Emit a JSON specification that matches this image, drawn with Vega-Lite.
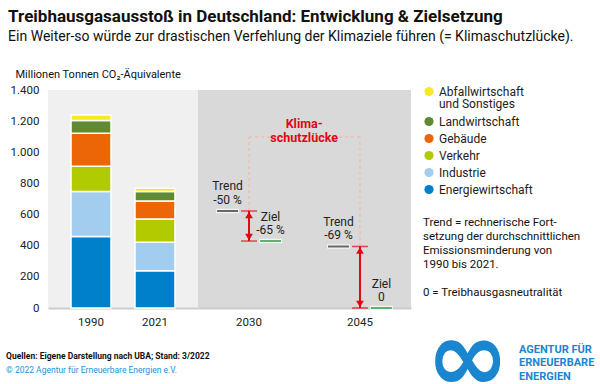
{
  "$schema": "https://vega.github.io/schema/vega-lite/v6.json",
  "background": "white",
  "padding": {"left": 6, "top": 8, "right": 4, "bottom": 2},
  "config": {
    "font": "Roboto",
    "view": {"stroke": null},
    "concat": {"spacing": 0},
    "style": {"guide-label": {"lineHeight": 12.5}},
    "axis": {"labelFont": "Roboto", "labelFontSize": 11.5, "labelColor": "#222", "ticks": false, "grid": false, "domain": false, "titleFont": "Roboto", "titleFontWeight": "normal", "titleColor": "#111"},
    "legend": {"orient": "none", "legendX": 375, "legendY": -4.5, "symbolType": "circle", "symbolSize": 85, "symbolStrokeWidth": 0, "labelFont": "Roboto", "labelFontSize": 12, "labelColor": "#222", "labelLimit": 250, "rowPadding": 5, "padding": 0, "titleFont": "Roboto", "titleOrient": "bottom", "titleFontWeight": "normal", "titleFontSize": 11.5, "titleColor": "#111", "titleLimit": 300, "titlePadding": 21, "titleLineHeight": 14}
  },
  "title": {
    "text": "Treibhausgasausstoß in Deutschland: Entwicklung & Zielsetzung",
    "subtitle": "Ein Weiter-so würde zur drastischen Verfehlung der Klimaziele führen (= Klimaschutzlücke).",
    "anchor": "start", "font": "Roboto", "fontSize": 17, "fontWeight": "bold", "color": "#111",
    "subtitleFont": "Roboto", "subtitleFontSize": 14, "subtitleColor": "#111", "subtitlePadding": 4, "offset": 23, "dx": 2
  },
  "datasets": {
    "emissions": [
      {"year": "1990", "sector": "Energiewirtschaft", "value": 459},
      {"year": "1990", "sector": "Industrie", "value": 289},
      {"year": "1990", "sector": "Verkehr", "value": 162},
      {"year": "1990", "sector": "Gebäude", "value": 212},
      {"year": "1990", "sector": "Landwirtschaft", "value": 82},
      {"year": "1990", "sector": "Abfallwirtschaft und Sonstiges", "value": 36},
      {"year": "2021", "sector": "Energiewirtschaft", "value": 240},
      {"year": "2021", "sector": "Industrie", "value": 182},
      {"year": "2021", "sector": "Verkehr", "value": 150},
      {"year": "2021", "sector": "Gebäude", "value": 115},
      {"year": "2021", "sector": "Landwirtschaft", "value": 61},
      {"year": "2021", "sector": "Abfallwirtschaft und Sonstiges", "value": 21}
    ],
    "targets": [
      {"year": "2030", "kind": "Trend", "value": 623, "label": "Trend\n-50 %"},
      {"year": "2030", "kind": "Ziel", "value": 430, "label": "Ziel\n-65 %"},
      {"year": "2045", "kind": "Trend", "value": 395, "label": "Trend\n-69 %"},
      {"year": "2045", "kind": "Ziel", "value": 0, "label": "Ziel\n0"}
    ]
  },
  "vconcat": [
    {
      "bounds": "flush",
      "title": {"text": "∞", "orient": "bottom", "anchor": "end", "font": "DejaVu Sans", "fontSize": 100, "fontWeight": "bold", "color": "#1a86d0", "offset": -70, "dx": -85},
      "hconcat": [
        {
          "width": 150, "height": 218,
          "view": {"fill": "#f0f0f0", "stroke": null},
          "title": {"text": "Quellen: Eigene Darstellung nach UBA; Stand: 3/2022", "subtitle": "© 2022 Agentur für Erneuerbare Energien e.V.", "orient": "bottom", "anchor": "start", "font": "Roboto", "fontSize": 8.5, "fontWeight": "bold", "color": "#111", "subtitleFont": "Roboto", "subtitleFontSize": 8.5, "subtitleColor": "#2a8fd6", "subtitlePadding": 6, "offset": 24, "dx": -4},
          "data": {"name": "emissions"},
          "transform": [{"calculate": "indexof(['Energiewirtschaft', 'Industrie', 'Verkehr', 'Gebäude', 'Landwirtschaft', 'Abfallwirtschaft und Sonstiges'], datum.sector)", "as": "stackOrder"}],
          "mark": {"type": "bar", "stroke": "white", "strokeWidth": 1.5},
          "encoding": {
            "x": {"field": "year", "type": "ordinal", "scale": {"paddingInner": 0.375, "paddingOuter": 0.36},
                  "axis": {"title": null, "labelAngle": 0, "domain": true, "domainColor": "#cccccc", "domainWidth": 2, "labelPadding": 8}},
            "y": {"field": "value", "type": "quantitative", "scale": {"domain": [0, 1400]},
                  "axis": {"values": [0, 200, 400, 600, 800, 1000, 1200, 1400], "labelExpr": "replace(format(datum.value, ','), ',', '.')", "labelPadding": 9,
                           "title": "Millionen Tonnen CO₂-Äquivalente", "titleAngle": 0, "titleAlign": "left", "titleBaseline": "alphabetic", "titleX": -33, "titleY": -13, "titleFontSize": 11}},
            "order": {"field": "stackOrder", "type": "quantitative", "sort": "ascending"},
            "color": {"field": "sector", "type": "nominal",
                      "scale": {"domain": ["Abfallwirtschaft und Sonstiges", "Landwirtschaft", "Gebäude", "Verkehr", "Industrie", "Energiewirtschaft"],
                                "range": ["#f7e923", "#5f8c32", "#ec6608", "#b2cb00", "#a2cdee", "#0080c8"]},
                      "legend": {"title": ["Trend = rechnerische  Fort-", "setzung der durchschnittlichen", "Emissionsminderung von", "1990 bis 2021.", "\u200b", "0 = Treibhausgasneutralität"],
                                 "labelExpr": "datum.label == 'Abfallwirtschaft und Sonstiges' ? ['Abfallwirtschaft', 'und Sonstiges'] : datum.label"}}
          }
        },
        {
          "width": 213, "height": 218,
          "view": {"fill": "#d9d9d9", "stroke": null},
          "title": {"text": ["AGENTUR FÜR", "ERNEUERBARE", "ENERGIEN"], "orient": "bottom", "anchor": "end", "align": "left", "frame": "group", "dx": 108, "offset": 16, "font": "Roboto", "fontSize": 11, "fontWeight": "bold", "color": "#1a86d0", "lineHeight": 13.5},
          "data": {"name": "targets"},
          "layer": [
            {
              "transform": [{"filter": "datum.kind == 'Trend'"}],
              "mark": {"type": "rule", "color": "#f2b49c", "strokeDash": [3, 3], "strokeWidth": 1},
              "encoding": {
                "x": {"field": "year", "type": "ordinal", "scale": {"domain": ["2030", "2045"], "paddingInner": 0.08, "paddingOuter": 0},
                      "axis": {"title": null, "labelAngle": 0, "domain": true, "domainColor": "#cccccc", "domainWidth": 2, "labelPadding": 8}},
                "y": {"field": "value", "type": "quantitative", "scale": {"domain": [0, 1400]}, "axis": null},
                "y2": {"datum": 1098}
              }
            },
            {
              "data": {"values": [{}]},
              "mark": {"type": "rule", "color": "#f2b49c", "strokeDash": [3, 3], "strokeWidth": 1},
              "encoding": {
                "x": {"datum": "2030", "type": "ordinal"},
                "x2": {"datum": "2045"},
                "y": {"datum": 1098, "type": "quantitative"}
              }
            },
            {
              "data": {"values": [{}]},
              "mark": {"type": "text", "color": "#e30613", "fontWeight": "bold", "fontSize": 12.5, "baseline": "middle", "lineHeight": 14, "dy": -13.5},
              "encoding": {
                "x": {"datum": "2030", "type": "ordinal", "bandPosition": 1.04},
                "y": {"datum": 1098, "type": "quantitative"},
                "text": {"value": ["Klima-", "schutzlücke"]}
              }
            },
            {
              "transform": [{"pivot": "kind", "value": "value", "groupby": ["year"]}],
              "mark": {"type": "rule", "color": "#e30613", "strokeWidth": 2},
              "encoding": {
                "x": {"field": "year", "type": "ordinal"},
                "y": {"field": "Trend", "type": "quantitative"},
                "y2": {"field": "Ziel"}
              }
            },
            {
              "mark": {"type": "tick", "color": "#e30613", "size": 16, "thickness": 1.5, "orient": "horizontal"},
              "encoding": {
                "x": {"field": "year", "type": "ordinal"},
                "y": {"field": "value", "type": "quantitative"}
              }
            },
            {
              "transform": [{"filter": "datum.kind == 'Trend'"}],
              "mark": {"type": "point", "shape": "triangle-up", "filled": true, "color": "#e30613", "size": 60, "opacity": 1, "yOffset": 4},
              "encoding": {
                "x": {"field": "year", "type": "ordinal"},
                "y": {"field": "value", "type": "quantitative"}
              }
            },
            {
              "transform": [{"filter": "datum.kind == 'Ziel'"}],
              "mark": {"type": "point", "shape": "triangle-down", "filled": true, "color": "#e30613", "size": 60, "opacity": 1, "yOffset": -4},
              "encoding": {
                "x": {"field": "year", "type": "ordinal"},
                "y": {"field": "value", "type": "quantitative"}
              }
            },
            {
              "mark": {"type": "tick", "color": "white", "size": 23, "thickness": 4.5, "orient": "horizontal"},
              "encoding": {
                "x": {"field": "year", "type": "ordinal"},
                "xOffset": {"field": "kind", "type": "nominal", "scale": {"domain": ["Trend", "Ziel"], "paddingInner": 0, "paddingOuter": 0.19}},
                "y": {"field": "value", "type": "quantitative"}
              }
            },
            {
              "transform": [{"filter": "datum.kind == 'Trend'"}],
              "mark": {"type": "tick", "color": "#2b2b2b", "size": 21, "thickness": 2, "orient": "horizontal"},
              "encoding": {
                "x": {"field": "year", "type": "ordinal"},
                "xOffset": {"field": "kind", "type": "nominal"},
                "y": {"field": "value", "type": "quantitative"}
              }
            },
            {
              "transform": [{"filter": "datum.kind == 'Ziel'"}],
              "mark": {"type": "tick", "color": "#1a9a3a", "size": 21, "thickness": 2, "orient": "horizontal"},
              "encoding": {
                "x": {"field": "year", "type": "ordinal"},
                "xOffset": {"field": "kind", "type": "nominal"},
                "y": {"field": "value", "type": "quantitative"}
              }
            },
            {
              "mark": {"type": "text", "color": "#222", "fontSize": 12, "baseline": "alphabetic", "dy": -20.5, "lineBreak": "\n", "lineHeight": 13.5},
              "encoding": {
                "x": {"field": "year", "type": "ordinal"},
                "xOffset": {"field": "kind", "type": "nominal"},
                "y": {"field": "value", "type": "quantitative"},
                "text": {"field": "label"}
              }
            }
          ]
        }
      ]
    }
  ]
}
